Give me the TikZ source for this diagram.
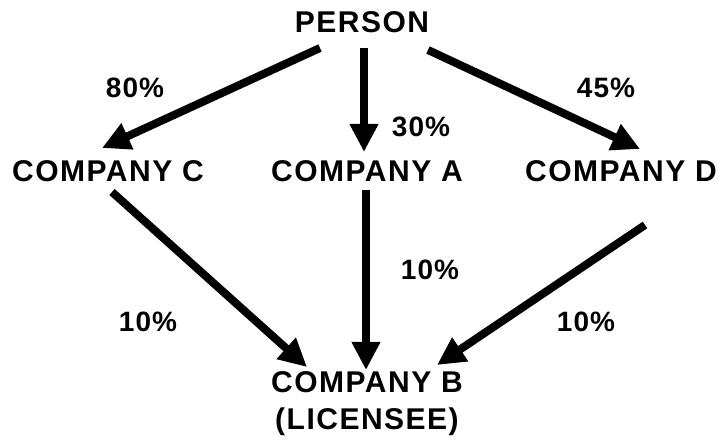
\documentclass[tikz,border=0pt]{standalone}
\usepackage{fontspec}
\setmainfont{Liberation Sans}
\usetikzlibrary{arrows.meta}
\tikzset{
  entity/.style={font=\bfseries\fontsize{30}{37}\selectfont\addfontfeatures{LetterSpace=5}, inner sep=0pt},
  pct/.style={font=\bfseries\fontsize{28}{30}\selectfont\addfontfeatures{LetterSpace=4}, inner sep=0pt},
  arr/.style={line width=8pt, -{Triangle[length=28pt,width=27pt]}}
}
\begin{document}
\begin{tikzpicture}[x=1pt,y=-1pt]
\useasboundingbox (0,0) rectangle (720,443);
\node[entity] (person) at (362,22) {PERSON};
\node[entity] (c) at (108,171) {COMPANY C};
\node[entity] (a) at (367,171) {COMPANY A};
\node[entity] (d) at (621,171) {COMPANY D};
\node[entity, align=center] (b) at (367,404) {COMPANY B\\(LICENSEE)};
\node[pct] (p80) at (135,88) {80\%};
\node[pct] (p30) at (421,127) {30\%};
\node[pct] (p45) at (606,88) {45\%};
\node[pct] (p10a) at (430,270) {10\%};
\node[pct] (p10c) at (148,322) {10\%};
\node[pct] (p10d) at (586,322) {10\%};
\draw[arr] ([shift={(-42,26)}]person.center) -- ([shift={(-6,-23)}]c.center);
\draw[arr] ([shift={(2,26)}]person.center) -- ([shift={(-3,-19)}]a.center);
\draw[arr] ([shift={(66,28)}]person.center) -- ([shift={(19,-22)}]d.center);
\draw[arr] ([shift={(4,21)}]c.center) -- ([shift={(-60,-37)}]b.center);
\draw[arr] ([shift={(-1,19)}]a.center) -- ([shift={(-1,-34)}]b.center);
\draw[arr] ([shift={(24,54)}]d.center) -- ([shift={(70,-39)}]b.center);
\end{tikzpicture}
\end{document}
